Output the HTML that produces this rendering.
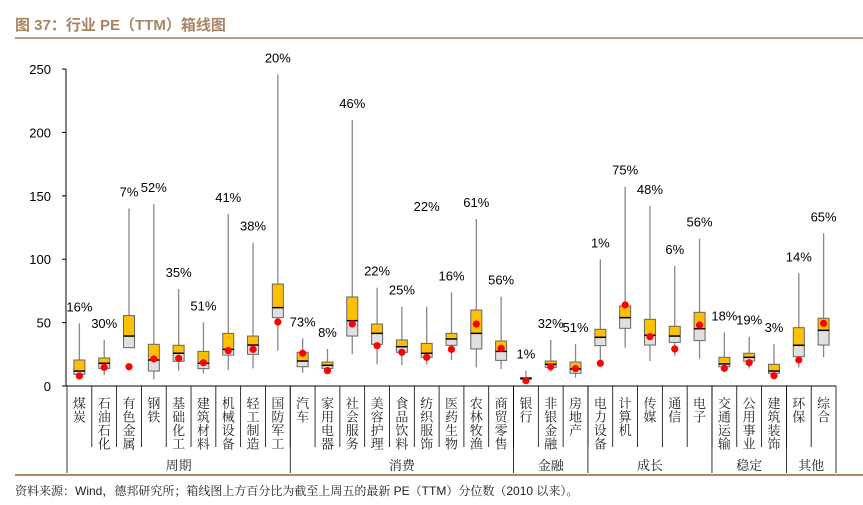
<!DOCTYPE html>
<html><head><meta charset="utf-8"><style>
body{margin:0;background:#fff;width:863px;height:505px;overflow:hidden;font-family:"Liberation Sans","Noto Sans CJK SC",sans-serif}
svg{display:block}
</style></head><body>
<svg id="c" width="863" height="505">
<text x="15" y="30" font-size="15" font-weight="bold" fill="#a88462" font-family="'Liberation Sans','Noto Sans CJK SC',sans-serif">图 37：行业 PE（TTM）箱线图</text>
<rect x="15" y="37" width="848" height="2" fill="#bc9a7a"/>
<rect x="15" y="474" width="848" height="2" fill="#b08a68"/>
<text x="15" y="495" font-size="12" fill="#222" font-family="'Liberation Sans','Noto Serif CJK SC',serif">资料来源：Wind，德邦研究所；箱线图上方百分比为截至上周五的最新 PE（TTM）分位数（2010 以来）。</text>
<g id="g"></g>
</svg>
<script>
const categories=["煤炭","石油石化","有色金属","钢铁","基础化工","建筑材料","机械设备","轻工制造","国防军工","汽车","家用电器","社会服务","美容护理","食品饮料","纺织服饰","医药生物","农林牧渔","商贸零售","银行","非银金融","房地产","电力设备","计算机","传媒","通信","电子","交通运输","公用事业","建筑装饰","环保","综合"];
const whiskerMax=[49.4,36.3,140,143.5,76.5,50.2,135.6,113,245.8,37.6,29.2,209.8,77.5,62.6,62.6,73.9,131.7,70.5,12.1,36.3,33.1,99.9,157.2,142,94.6,116.2,42.3,38.9,33.1,88.9,120.4];
const q3=[20.5,22.1,55.5,32.9,32.1,27.3,41.5,39.4,80.4,26.6,18.9,70.2,48.9,36.3,33.6,41.5,59.9,35.5,6.6,19.7,18.9,44.7,63.1,52.6,47.1,58.1,22.6,25.8,17.1,46,53.4];
const median=[11.8,17.9,39.4,20.5,25.8,17.9,28.9,32.3,61.8,19.7,16.3,51.5,41.5,31,25.8,37.1,41.5,27.3,6,17.1,13.4,38.4,53.9,40,39.4,45.2,17.4,22.6,11.8,32.1,43.9];
const q1=[9.2,13.9,30.2,11.8,19.5,13.7,24.4,25,53.9,15.2,13.9,39.4,32.9,26.6,22.6,32.1,29.2,20.2,5.3,14.7,10,31.8,45.5,32.3,34.4,35.8,15.2,19.7,10,23.1,32.3];
const whiskerMin=[8.7,8.7,30.2,5.3,12.1,10,12.6,13.9,27.9,10.5,13.5,25,17.1,16.6,17.1,20.5,14.7,13.4,5,11.3,6.6,18.4,30.2,19.7,23.9,21.6,12.6,13.9,9.5,14.7,22.6];
const current=[7.9,14.7,15.2,21.3,21.8,18.4,27.9,28.9,50.5,25.8,12.1,48.9,31.8,26.6,22.6,28.9,48.9,29.7,4.2,15.2,13.7,17.9,63.9,38.9,29.2,48.1,13.9,18.4,8.1,20.5,49.4];
const percentile=["16%","30%","7%","52%","35%","51%","41%","38%","20%","73%","8%","46%","22%","25%","22%","16%","61%","56%","1%","32%","51%","1%","75%","48%","6%","56%","18%","19%","3%","14%","65%"];
const labelLift=[0,0,0,0,0,0,0,0,0,0,0,0,0,0,66,0,0,0,0,0,0,0,0,0,0,0,0,0,0,0,0];
const groups=["周期","消费","金融","成长","稳定","其他"];
const groupSizes=[9,9,3,5,3,2];
const yTicks=[0,50,100,150,200,250];

const NS="http://www.w3.org/2000/svg";
const g=document.getElementById('g');
const X0=67,X1=836,Y0=386,YT=69,VMAX=250;
const step=(X1-X0)/categories.length;
const xc=i=>X0+step*(i+0.5);
const y=v=>Y0-(v/VMAX)*(Y0-YT);
function mk(tag,attrs){const e=document.createElementNS(NS,tag);for(const k in attrs)e.setAttribute(k,attrs[k]);g.appendChild(e);return e;}

let ax=mk('line',{x1:66,y1:YT,x2:66,y2:Y0,stroke:'#000','stroke-width':1});


yTicks.forEach(t=>{
  let l=mk('line',{x1:62,y1:y(t),x2:66,y2:y(t),stroke:'#000'});
  
  
  let tx=mk('text',{x:51,y:y(t)+5,'font-size':13,'text-anchor':'end',fill:'#000'});
  tx.textContent=t;
  
  
});
let xa=mk('line',{x1:66,y1:Y0,x2:X1,y2:Y0,stroke:'#000'});



categories.forEach((c,i)=>{
  const x=xc(i);
  let w=mk('line',{x1:x,y1:y(whiskerMax[i]),x2:x,y2:y(whiskerMin[i]),stroke:'#888','stroke-width':1.3});
  
  
  let bw=11;
  let lo=mk('rect',{x:x-bw/2,y:y(median[i]),width:bw,height:Math.max(y(q1[i])-y(median[i]),0.5),fill:'#e0e0e0',stroke:'#666','stroke-width':1});
  
  
  let hi=mk('rect',{x:x-bw/2,y:y(q3[i]),width:bw,height:Math.max(y(median[i])-y(q3[i]),0.5),fill:'#ffc000',stroke:'#666','stroke-width':1});
  
  
  let md=mk('line',{x1:x-bw/2,y1:y(median[i]),x2:x+bw/2,y2:y(median[i]),stroke:'#000','stroke-width':1.5});
  
  
  let d=mk('circle',{cx:x,cy:y(current[i]),r:3.6,fill:'#ff0000'});
  
  
  let lb=mk('text',{x:x,y:y(whiskerMax[i]+labelLift[i])-12,'font-size':13,'text-anchor':'middle',fill:'#000'});
  lb.textContent=percentile[i];
  
  
  let ct=mk('text',{x:x,y:408,'font-size':13,'text-anchor':'middle',fill:'#222','font-family':"'Noto Serif CJK SC',serif"});
  
  
  [...c].forEach((ch,k)=>{const s=document.createElementNS(NS,'tspan');s.setAttribute('x',x);s.setAttribute('dy',k?13.5:0);s.textContent=ch;ct.appendChild(s);});
  if(i>0){let dv=mk('line',{x1:X0+step*i,y1:Y0,x2:X0+step*i,y2:447,stroke:'#000','stroke-width':0.8});
  
  }
});
let start=0;
groups.forEach((gr,j)=>{
  const xs=X0+step*start, xe=X0+step*(start+groupSizes[j]);
  let l=mk('line',{x1:xs,y1:Y0,x2:xs,y2:473,stroke:'#000','stroke-width':0.8});
  
  
  let t=mk('text',{x:(xs+xe)/2,y:470,'font-size':13,'text-anchor':'middle',fill:'#222','font-family':"'Noto Serif CJK SC',serif"});
  t.textContent=gr;
  
  
  start+=groupSizes[j];
});
let le=mk('line',{x1:X1,y1:Y0,x2:X1,y2:473,stroke:'#000','stroke-width':0.8});


</script>
</body></html>
